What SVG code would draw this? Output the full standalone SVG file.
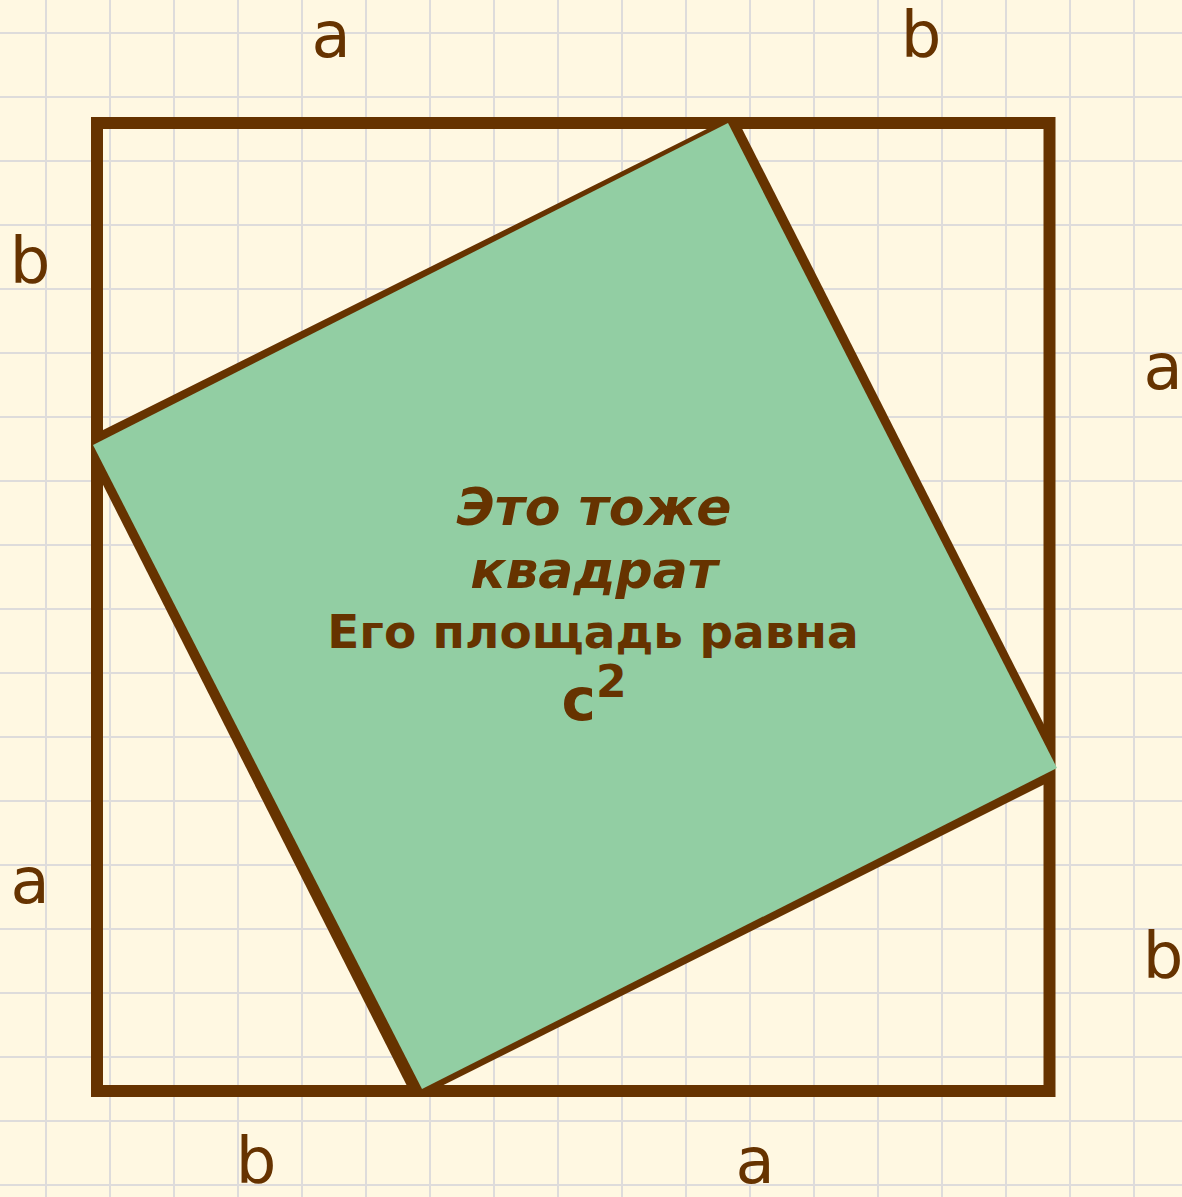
<svg xmlns="http://www.w3.org/2000/svg" width="1182" height="1197" viewBox="0 0 1182 1197">
  <style>
    .grid line { stroke: #dedcdb; stroke-width: 2; }
    .lbl { font-family: "DejaVu Sans", Verdana, sans-serif; font-size: 64px; fill: #663300; text-anchor: middle; }
    .ttl { font-family: "DejaVu Sans", Verdana, sans-serif; font-weight: bold; fill: #663300; text-anchor: middle; }
  </style>
  <defs>
    <clipPath id="sqclip">
      <rect x="91" y="117" width="964" height="980"/>
    </clipPath>
  </defs>
  <rect x="0" y="0" width="1182" height="1197" fill="#fff8e2"/>
  <g id="grid" class="grid">
    <line x1="46" y1="0" x2="46" y2="1197"/>
    <line x1="110" y1="0" x2="110" y2="1197"/>
    <line x1="174" y1="0" x2="174" y2="1197"/>
    <line x1="238" y1="0" x2="238" y2="1197"/>
    <line x1="302" y1="0" x2="302" y2="1197"/>
    <line x1="366" y1="0" x2="366" y2="1197"/>
    <line x1="430" y1="0" x2="430" y2="1197"/>
    <line x1="494" y1="0" x2="494" y2="1197"/>
    <line x1="558" y1="0" x2="558" y2="1197"/>
    <line x1="622" y1="0" x2="622" y2="1197"/>
    <line x1="686" y1="0" x2="686" y2="1197"/>
    <line x1="750" y1="0" x2="750" y2="1197"/>
    <line x1="814" y1="0" x2="814" y2="1197"/>
    <line x1="878" y1="0" x2="878" y2="1197"/>
    <line x1="942" y1="0" x2="942" y2="1197"/>
    <line x1="1006" y1="0" x2="1006" y2="1197"/>
    <line x1="1070" y1="0" x2="1070" y2="1197"/>
    <line x1="1134" y1="0" x2="1134" y2="1197"/>
    <line x1="0" y1="33" x2="1182" y2="33"/>
    <line x1="0" y1="97" x2="1182" y2="97"/>
    <line x1="0" y1="161" x2="1182" y2="161"/>
    <line x1="0" y1="225" x2="1182" y2="225"/>
    <line x1="0" y1="289" x2="1182" y2="289"/>
    <line x1="0" y1="353" x2="1182" y2="353"/>
    <line x1="0" y1="417" x2="1182" y2="417"/>
    <line x1="0" y1="481" x2="1182" y2="481"/>
    <line x1="0" y1="545" x2="1182" y2="545"/>
    <line x1="0" y1="609" x2="1182" y2="609"/>
    <line x1="0" y1="673" x2="1182" y2="673"/>
    <line x1="0" y1="737" x2="1182" y2="737"/>
    <line x1="0" y1="801" x2="1182" y2="801"/>
    <line x1="0" y1="865" x2="1182" y2="865"/>
    <line x1="0" y1="929" x2="1182" y2="929"/>
    <line x1="0" y1="993" x2="1182" y2="993"/>
    <line x1="0" y1="1057" x2="1182" y2="1057"/>
    <line x1="0" y1="1121" x2="1182" y2="1121"/>
    <line x1="0" y1="1185" x2="1182" y2="1185"/>
  </g>
  <g id="inner-square-border">
    <polygon points="735.1,114.9 1068.2,772.4 414,1099.8 80.9,441.1" fill="#663300" clip-path="url(#sqclip)"/>
  </g>
  <g id="outer-square">
    <rect x="97" y="123" width="952.5" height="968" fill="none" stroke="#663300" stroke-width="12"/>
  </g>
  <g id="inner-square">
    <polygon points="728,123 1057,768 422,1089 93,445" fill="#92cea3"/>
    <text class="ttl" x="594" y="525" font-size="52" font-style="italic">Это тоже</text>
    <text class="ttl" x="594" y="588" font-size="52" font-style="italic">квадрат</text>
    <text class="ttl" x="593" y="648" font-size="47">Его площадь равна</text>
    <text class="ttl" x="594" y="720"><tspan font-size="58">c</tspan><tspan font-size="44" dy="-23">2</tspan></text>
  </g>
  <g id="connectors"/>
  <g id="labels">
    <text class="lbl" x="331" y="57">a</text>
    <text class="lbl" x="921" y="57">b</text>
    <text class="lbl" x="30" y="283">b</text>
    <text class="lbl" x="1163" y="389">a</text>
    <text class="lbl" x="30" y="903">a</text>
    <text class="lbl" x="1163" y="978">b</text>
    <text class="lbl" x="256" y="1183">b</text>
    <text class="lbl" x="755" y="1183">a</text>
  </g>
</svg>
